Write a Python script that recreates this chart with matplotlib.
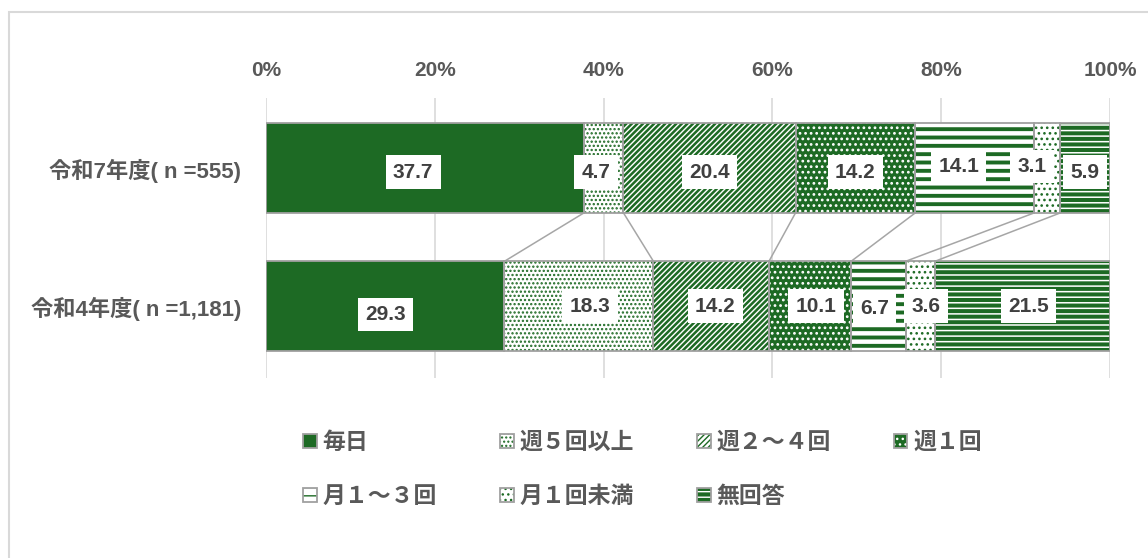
import numpy as np
import matplotlib
matplotlib.use("Agg")
import matplotlib.pyplot as plt
from matplotlib.legend_handler import HandlerTuple

plt.rcParams['font.family'] = ['Liberation Sans', 'Noto Sans CJK JP']

categories = ["令和4年度( n =1,181)", "令和7年度( n =555)"]
series = ["毎日", "週５回以上", "週２～４回", "週１回", "月１～３回", "月１回未満", "無回答"]
r4_values = [29.3, 18.3, 14.2, 10.1, 6.7, 3.6, 21.5]
r7_values = [37.7, 4.7, 20.4, 14.2, 14.1, 3.1, 5.9]
ticks = [0, 20, 40, 60, 80, 100]

G = '#1d6a24'
GREY_TXT = '#595959'
# face, hatch, hatch colour, hatch linewidth
styles = [
    (G, '', G, 1.0),
    ('white', '....', G, 1.1),
    ('white', '//////', G, 1.8),
    (G, '...', 'white', 1.2),
    ('white', '--', G, 2.8),
    ('white', '...', G, 1.1),
    (G, '---', 'white', 1.1),
]
# small label nudges (x in %, y in bar units), like the hand-moved Excel labels
nudge_x = [[0, 1.3, 0.5, 0.7, -0.5, 0.7, 0.7],
           [-1.4, -0.9, 0, 0, -1.9, -1.8, 0]]
nudge_y = [[-0.06, 0, 0, 0, -0.02, 0, 0],
           [-0.03, -0.03, -0.03, -0.03, 0.01, 0.01, -0.03]]

data = np.array([r4_values, r7_values])
shares = data / data.sum(axis=1, keepdims=True) * 100
lefts = np.hstack([np.zeros((2, 1)), np.cumsum(shares, axis=1)[:, :-1]])
y = np.arange(len(categories))
h = 0.65

W, H = 1148, 558
fig = plt.figure(figsize=(W / 100, H / 100), dpi=100)
ax = fig.add_axes([266 / W, 1 - 378 / H, (1110 - 266) / W, (378 - 98) / H])

handles = []
for j, (face, hatch, hc, hlw) in enumerate(styles):
    with plt.rc_context({'hatch.linewidth': hlw}):
        bars = ax.barh(y, shares[:, j], left=lefts[:, j], height=h, color=face,
                       edgecolor=hc, linewidth=0, hatch=hatch or None,
                       label=series[j], zorder=2)
        for p in bars:
            if hasattr(p, 'set_hatch_linewidth'):
                p.set_hatch_linewidth(hlw)
    outline = ax.barh(y, shares[:, j], left=lefts[:, j], height=h, fill=False,
                      edgecolor='#a0a0a0', linewidth=1.3, zorder=3)
    handles.append((bars, outline))

# series lines between the two bars
for j in range(1, len(series)):
    ax.plot([lefts[1, j], lefts[0, j]], [1 - h / 2, h / 2],
            color='#a6a6a6', lw=1.1, zorder=1)

for i in range(len(categories)):
    for j in range(len(series)):
        cx = lefts[i, j] + shares[i, j] / 2 + nudge_x[i][j]
        ax.text(cx, y[i] + nudge_y[i][j], f"{data[i, j]:.1f}", ha='center',
                va='center', fontsize=15, fontweight='bold', color='#404040',
                bbox=dict(boxstyle='square,pad=0.35', fc='white', ec='none'),
                zorder=5)

ax.set_xlim(0, 100)
ax.set_ylim(-0.52, 1.507)
ax.xaxis.tick_top()
ax.set_xticks(ticks)
ax.set_xticklabels([f"{t}%" for t in ticks])
ax.set_yticks(y)
ax.set_yticklabels(categories)
ax.tick_params(axis='x', length=0, pad=13, labelsize=15, labelcolor=GREY_TXT)
ax.tick_params(axis='y', length=0, pad=18, labelsize=16, labelcolor=GREY_TXT)
for lab in ax.get_xticklabels() + ax.get_yticklabels():
    lab.set_fontweight('bold')
ax.grid(axis='x', color='#d9d9d9', lw=1.2, zorder=0)
ax.set_axisbelow(True)
for s in ax.spines.values():
    s.set_visible(False)

order = [0, 4, 1, 5, 2, 6, 3]
leg = fig.legend([handles[k] for k in order], [series[k] for k in order],
                 handler_map={tuple: HandlerTuple(ndivide=1, pad=0)},
                 ncol=4, loc='upper left', bbox_to_anchor=(303 / W, 1 - 431 / H),
                 frameon=False, fontsize=16.5, handlelength=0.6, handleheight=0.6,
                 handletextpad=0.25, columnspacing=2.75, labelspacing=1.35,
                 borderpad=0, borderaxespad=0)
for t in leg.get_texts():
    t.set_color(GREY_TXT)
    t.set_fontweight('bold')

fig.add_artist(plt.Rectangle((9 / W, -0.1), 1.2, 1.1 - 12 / H, fill=False,
                             edgecolor='#d9d9d9', lw=1.5,
                             transform=fig.transFigure))

fig.savefig("out.png", dpi=100)
